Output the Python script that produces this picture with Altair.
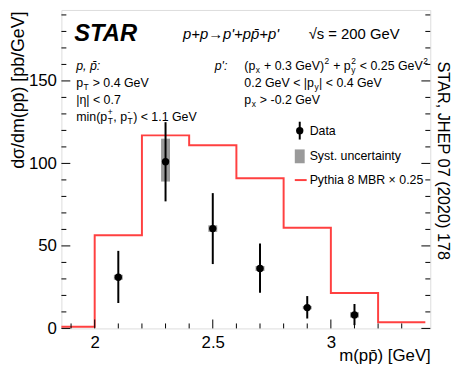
import altair as alt
import pandas as pd

# ---------------- data ----------------
pythia_edges = [1.8, 2.0, 2.2, 2.4, 2.6, 2.8, 3.0, 3.2, 3.4]
pythia_vals = [1.0, 56.5, 117.0, 111.0, 91.0, 61.0, 21.5, 3.8]

data_x = [2.1, 2.3, 2.5, 2.7, 2.9, 3.1]
data_y = [31.0, 101.0, 60.5, 36.3, 12.6, 8.2]
stat_lo = [15.4, 77.0, 39.0, 21.6, 6.0, 2.0]
stat_hi = [47.0, 125.0, 82.0, 51.5, 19.6, 14.8]
syst_lo = [29.5, 89.0, 58.5, 34.8, 11.6, 6.6]
syst_hi = [32.5, 115.0, 62.5, 37.8, 13.6, 9.8]

x_major = [2.0, 2.5, 3.0]
x_minor = [1.9, 2.1, 2.2, 2.3, 2.4, 2.6, 2.7, 2.8, 2.9, 3.1, 3.2, 3.3]
y_major = [0, 50, 100, 150]
y_minor = [10, 20, 30, 40, 60, 70, 80, 90, 110, 120, 130, 140, 160, 170, 180, 190]

XMIN, XMAX = 1.88, 3.4
YMIN, YMAX = 0, 193
W, H = 373, 322
FONT = "Liberation Sans"
RED = "#ff4040"
GREY = "#9a9a9a"

# ---------------- tables ----------------
step_df = pd.DataFrame({"x": pythia_edges, "y": pythia_vals + [pythia_vals[-1]]})
pts_df = pd.DataFrame({"x": data_x, "y": data_y, "lo": stat_lo, "hi": stat_hi,
                       "slo": syst_lo, "shi": syst_hi})
xmaj_df = pd.DataFrame({"v": x_major})
xmin_df = pd.DataFrame({"v": x_minor})
ymaj_df = pd.DataFrame({"v": y_major})
ymin_df = pd.DataFrame({"v": y_minor})

xs = alt.Scale(domain=[XMIN, XMAX], nice=False, zero=False)
ys = alt.Scale(domain=[YMIN, YMAX], nice=False, zero=False)

X = alt.X("x:Q", scale=xs,
          axis=alt.Axis(values=x_major, format="~g", ticks=False, domain=False, grid=False,
                        labelFont=FONT, labelFontSize=17, labelColor="black", labelPadding=6,
                        title="m(pp̄) [GeV]", titleFont=FONT, titleFontSize=17,
                        titleFontWeight="normal", titleColor="black",
                        titleAnchor="end", titleAlign="right", titleX=W, titleY=27,
                        titleBaseline="middle"))
Y = alt.Y("y:Q", scale=ys,
          axis=alt.Axis(values=y_major, ticks=False, domain=False, grid=False,
                        labelFont=FONT, labelFontSize=17, labelColor="black", labelPadding=5,
                        title="dσ/dm(pp̄) [pb/GeV]", titleFont=FONT, titleFontSize=18,
                        titleFontWeight="normal", titleColor="black",
                        titleAngle=270, titleAlign="right", titleBaseline="middle",
                        titleX=-43, titleY=1))

pythia = alt.Chart(step_df).mark_line(interpolate="step-after", color=RED,
                                      strokeWidth=2, clip=True).encode(x=X, y=Y)

syst = alt.Chart(pts_df).mark_bar(size=9, color=GREY).encode(
    x=alt.X("x:Q", scale=xs), y=alt.Y("slo:Q", scale=ys), y2="shi:Q")
err = alt.Chart(pts_df).mark_rule(color="black", strokeWidth=2).encode(
    x=alt.X("x:Q", scale=xs), y=alt.Y("lo:Q", scale=ys), y2="hi:Q")
pts = alt.Chart(pts_df).mark_circle(color="black", size=55, opacity=1).encode(
    x=alt.X("x:Q", scale=xs), y=alt.Y("y:Q", scale=ys))


def xticks(df, length):
    return alt.Chart(df).mark_rule(color="black", strokeWidth=1).encode(
        x=alt.X("v:Q", scale=xs), y=alt.value(H), y2=alt.value(H - length))


def yticks(df, length):
    left = alt.Chart(df).mark_rule(color="black", strokeWidth=1).encode(
        y=alt.Y("v:Q", scale=ys), x=alt.value(0), x2=alt.value(length))
    right = alt.Chart(df).mark_rule(color="black", strokeWidth=1).encode(
        y=alt.Y("v:Q", scale=ys), x=alt.value(W), x2=alt.value(W - length))
    return left + right


ticks = xticks(xmaj_df, 9) + xticks(xmin_df, 5) + yticks(ymaj_df, 9) + yticks(ymin_df, 5)

blank = pd.DataFrame({"a": [0]})


def txt(text, x, y, size=12.5, style="normal", weight="normal", align="left", angle=0,
        baseline="middle"):
    kw = dict(text=text, font=FONT, fontSize=size, fontStyle=style, fontWeight=weight,
              align=align, baseline=baseline, color="black")
    if angle:
        kw["angle"] = angle
    return alt.Chart(blank).mark_text(**kw).encode(x=alt.value(x), y=alt.value(y))


# Helvetica-like advance widths (per 1000 em)
WID = {" ": 278, "(": 333, ")": 333, "+": 584, "-": 333, ".": 278, ",": 278, "<": 584,
       ">": 584, "|": 260, "G": 778, "V": 667, "T": 611, "e": 556, "p": 556, "x": 500,
       "y": 500, "m": 833, "i": 222, "n": 556, "η": 556}


def width(s, size):
    return sum(WID.get(c, 556) for c in s) * size / 1000.0


def rich(parts, x, y, size=12.5, small=8.5):
    """parts: list of (kind, text) or ('ss', sup, sub)."""
    out = []
    cx = x
    for p in parts:
        kind = p[0]
        if kind == "n":
            s = p[1]
            lead = len(s) - len(s.lstrip(" "))
            cx += width(" " * lead, size)
            s = s.lstrip(" ")
            out.append(txt(s, cx, y, size=size))
            cx += width(s, size)
        elif kind == "sub":
            out.append(txt(p[1], cx + 0.5, y + 4, size=small))
            cx += width(p[1], small) + 1
        elif kind == "sup":
            out.append(txt(p[1], cx + 0.5, y - 5, size=small))
            cx += width(p[1], small) + 1
        elif kind == "ss":
            out.append(txt(p[1], cx + 0.5, y - 5, size=small))
            out.append(txt(p[2], cx + 0.5, y + 4, size=small))
            cx += max(width(p[1], small), width(p[2], small)) + 1
    return out


L1, L2, L3, L4 = 57, 74, 91, 108
ann = [
    txt("STAR", 13, 24, size=24, style="italic", weight="bold"),
    txt("p+p→p'+pp̄+p'", 123, 24, size=15, style="italic"),
    txt("√s = 200 GeV", 250, 24, size=15),
    # left block
    txt("p, p̄:", 15, L1, style="italic"),
    *rich([("n", "p"), ("sub", "T"), ("n", " > 0.4 GeV")], 15, L2),
    txt("|η| < 0.7", 15, L3),
    *rich([("n", "min(p"), ("ss", "+", "T"), ("n", ", p"), ("ss", "-", "T"),
           ("n", ") < 1.1 GeV")], 15, L4),
    # right block
    txt("p':", 155, L1, style="italic"),
    *rich([("n", "(p"), ("sub", "x"), ("n", " + 0.3 GeV)"), ("sup", "2"), ("n", " + p"),
           ("ss", "2", "y"), ("n", " < 0.25 GeV"), ("sup", "2")], 185, L1),
    *rich([("n", "0.2 GeV < |p"), ("sub", "y"), ("n", "| < 0.4 GeV")], 185, L2),
    *rich([("n", "p"), ("sub", "x"), ("n", " > -0.2 GeV")], 185, L3),
    # legend
    txt("Data", 251, 122), txt("Syst. uncertainty", 251, 148),
    txt("Pythia 8 MBR × 0.25", 251, 172),
    # journal reference
    txt("STAR, JHEP 07 (2020) 178", 386, 52, size=16.5, angle=90, align="left"),
]

leg_marks = [
    alt.Chart(blank).mark_rule(color="black", strokeWidth=2).encode(
        x=alt.value(241), y=alt.value(113), y2=alt.value(131)),
    alt.Chart(blank).mark_circle(color="black", size=55, opacity=1).encode(
        x=alt.value(241), y=alt.value(122)),
    alt.Chart(blank).mark_rect(color=GREY).encode(
        x=alt.value(236), x2=alt.value(246), y=alt.value(141), y2=alt.value(155)),
    alt.Chart(blank).mark_rule(color=RED, strokeWidth=2).encode(
        x=alt.value(236), x2=alt.value(248), y=alt.value(172)),
]

chart = alt.layer(pythia, syst, err, pts, ticks, *ann, *leg_marks).properties(
    width=W, height=H,
    autosize=alt.AutoSizeParams(type="none"),
    padding={"left": 54, "top": 0, "right": 25, "bottom": 35},
).configure_view(stroke="black", strokeWidth=1.5).configure(background="white")

chart.save("out.html", embed_options={"renderer": "svg", "actions": False})
